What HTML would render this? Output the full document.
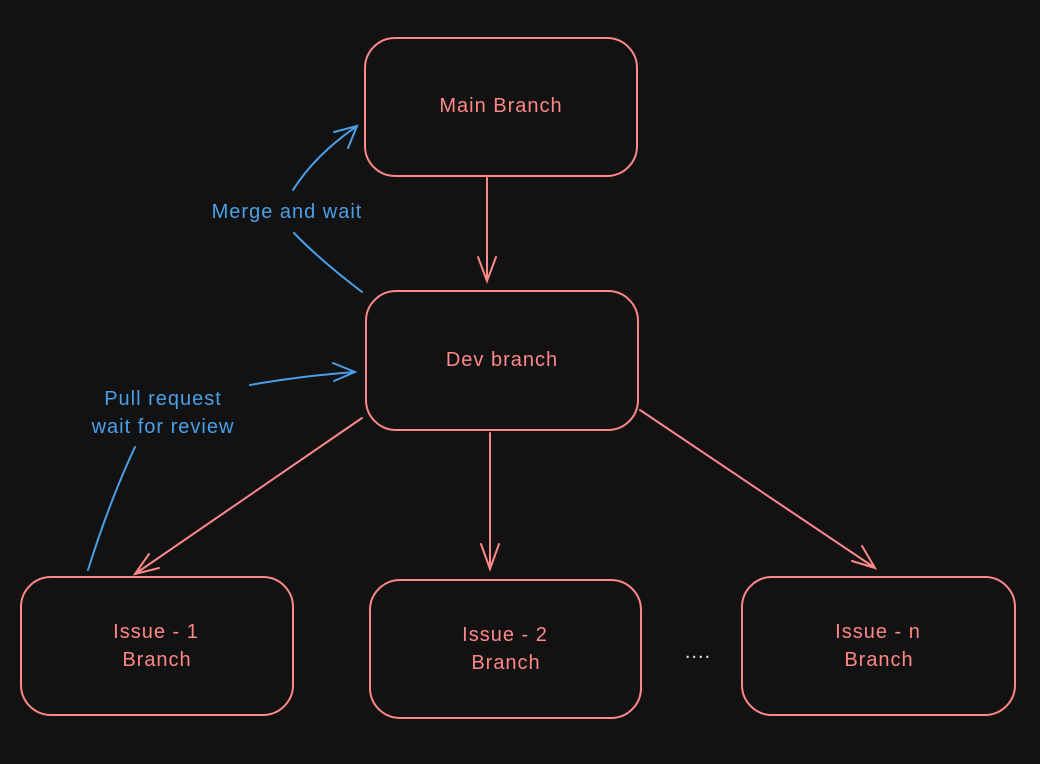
<!DOCTYPE html>
<html><head><meta charset="utf-8"><style>
html,body{margin:0;padding:0;background:#121212;}
svg{display:block}
text{font-family:"Liberation Sans",sans-serif;font-size:20px;letter-spacing:1px;text-anchor:middle;}
</style></head><body>
<svg width="1040" height="764" viewBox="0 0 1040 764" xmlns="http://www.w3.org/2000/svg">
<rect width="1040" height="764" fill="#121212"/>
<g fill="none" stroke="#ff8787" stroke-width="2" stroke-linecap="round">
<rect x="365" y="38" width="272" height="138" rx="30"/>
<rect x="366" y="291" width="272" height="139" rx="30"/>
<rect x="21" y="577" width="272" height="138" rx="30"/>
<rect x="370" y="580" width="271" height="138" rx="30"/>
<rect x="742" y="577" width="273" height="138" rx="30"/>
<path d="M487 178 L487 280 M478 257 L487 281 L496 257"/>
<path d="M362 418 L135 574 M149 554 L135 574 L159 568"/>
<path d="M490 433 L490 568 M481 544 L490 569 L499 544"/>
<path d="M640 410 L875 568 M852 561 L875 568 L862 546"/>
</g>
<g fill="none" stroke="#4a9fe8" stroke-width="2" stroke-linecap="round">
<path d="M362 292 Q320 260 294 233"/>
<path d="M293 190 Q315 155 357 126 M334 132 L357 126 L348 148"/>
<path d="M250 385 Q300 376 355 372 M333 363 L355 372 L334 381"/>
<path d="M135 447 Q110 500 88 570"/>
</g>
<g fill="#ff8787">
<text x="501" y="112">Main Branch</text>
<text x="502" y="366">Dev branch</text>
<text x="156" y="638">Issue - 1</text>
<text x="157" y="666">Branch</text>
<text x="505" y="641">Issue - 2</text>
<text x="506" y="669">Branch</text>
<text x="878" y="638">Issue - n</text>
<text x="879" y="666">Branch</text>
<text x="698" y="658" fill="#e0e0e0">....</text>
</g>
<g fill="#4a9fe8">
<text x="287" y="218">Merge and wait</text>
<text x="163" y="405">Pull request</text>
<text x="163" y="433">wait for review</text>
</g>
</svg>
</body></html>
